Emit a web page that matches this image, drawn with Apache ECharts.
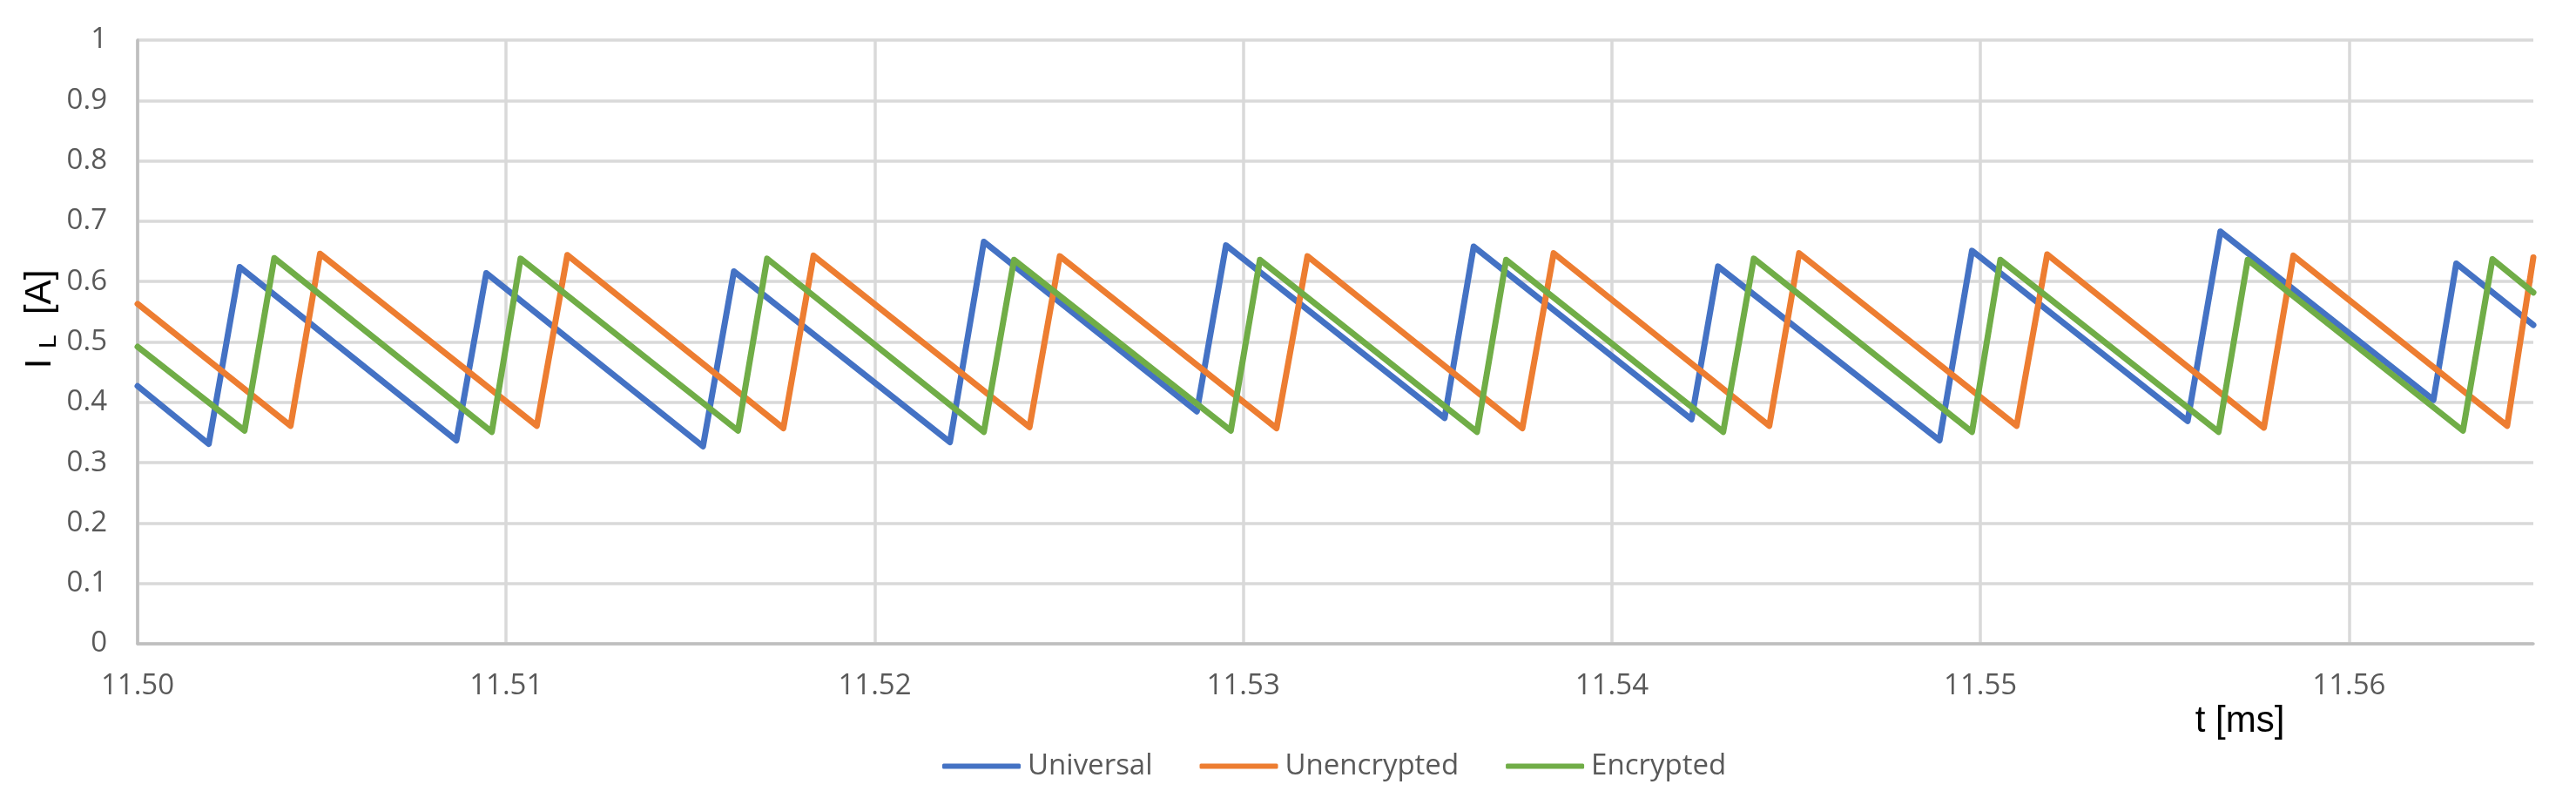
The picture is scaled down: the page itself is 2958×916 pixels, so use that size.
<!DOCTYPE html>
<html>
<head>
<meta charset="utf-8">
<script src="https://cdn.jsdelivr.net/npm/echarts/dist/echarts.min.js"></script>
<style>html,body{margin:0;padding:0;background:#fff;}#chart{width:2958px;height:916px;}</style>
</head>
<body>
<div id="chart"></div>
<script>
// Time values (ms) of each polyline vertex and inductor current (A)
const universalT = [11.5000, 11.50193, 11.50277, 11.50865, 11.50946, 11.51534, 11.51618, 11.52204, 11.52296, 11.52874, 11.52953, 11.53546, 11.53625, 11.54216, 11.54288, 11.54889, 11.54977, 11.55562, 11.55651, 11.56229, 11.56291, 11.5650];
const universalI = [0.427, 0.331, 0.624, 0.337, 0.614, 0.327, 0.617, 0.334, 0.666, 0.385, 0.660, 0.374, 0.658, 0.372, 0.625, 0.337, 0.651, 0.369, 0.683, 0.404, 0.630, 0.528];

const unencryptedT = [11.5000, 11.50415, 11.50495, 11.51083, 11.51166, 11.51752, 11.51834, 11.52420, 11.52502, 11.53090, 11.53174, 11.53757, 11.53842, 11.54427, 11.54508, 11.55098, 11.55181, 11.55769, 11.55849, 11.56429, 11.5650];
const unencryptedI = [0.563, 0.361, 0.646, 0.361, 0.644, 0.357, 0.643, 0.359, 0.642, 0.357, 0.642, 0.357, 0.647, 0.361, 0.647, 0.361, 0.645, 0.358, 0.643, 0.361, 0.640];

const encryptedT = [11.5000, 11.50290, 11.50371, 11.50961, 11.51039, 11.51629, 11.51708, 11.52296, 11.52378, 11.52966, 11.53045, 11.53634, 11.53713, 11.54302, 11.54385, 11.54977, 11.55054, 11.55646, 11.55725, 11.56309, 11.56389, 11.5650];
const encryptedI = [0.492, 0.353, 0.639, 0.351, 0.638, 0.353, 0.638, 0.351, 0.636, 0.353, 0.636, 0.351, 0.636, 0.351, 0.638, 0.351, 0.636, 0.351, 0.636, 0.353, 0.637, 0.582];

const seriesNames = ['Universal', 'Unencrypted', 'Encrypted'];
const seriesColors = ['#4472C4', '#ED7D31', '#70AD47'];
const xTickLabels = ['11.50', '11.51', '11.52', '11.53', '11.54', '11.55', '11.56'];

function pairs(t, v) { return t.map((x, i) => [x, v[i]]); }

const chart = echarts.init(document.getElementById('chart'), null, {renderer: 'canvas'});
const labelFont = {fontFamily: 'Open Sans', fontSize: 33, color: '#595959'};

chart.setOption({
  animation: false,
  backgroundColor: '#ffffff',
  color: seriesColors,
  grid: {left: 158, right: 49, top: 46, bottom: 177, containLabel: false},
  legend: {
    data: seriesNames,
    left: 1077, top: 858,
    icon: 'roundRect',
    itemWidth: 90, itemHeight: 6, itemGap: 54,
    textStyle: Object.assign({padding: [0, 0, 0, 3]}, labelFont)
  },
  xAxis: {
    type: 'value',
    min: 11.50, max: 11.565, interval: 0.01,
    name: 't [ms]',
    nameLocation: 'end',
    nameGap: -337,
    nameMoveOverlap: false,
    nameTextStyle: {fontFamily: 'Liberation Sans', fontSize: 42, color: '#000000', align: 'center', verticalAlign: 'top', padding: [68, 0, 0, 0]},
    axisLine: {show: true, lineStyle: {color: '#BFBFBF', width: 3.5}},
    axisTick: {show: false},
    axisLabel: {
      ...labelFont, margin: 32, showMaxLabel: false,
      formatter: function (v) {
        const idx = Math.round((v - 11.50) / 0.01);
        return xTickLabels[idx] !== undefined ? xTickLabels[idx] : '';
      }
    },
    splitLine: {show: true, showMaxLine: false, lineStyle: {color: '#D9D9D9', width: 3.5}}
  },
  yAxis: {
    type: 'value',
    min: 0, max: 1, interval: 0.1,
    name: '{i|I }{sub|L}{i|  [A]}',
    nameLocation: 'middle',
    nameRotate: 90,
    nameGap: 88,
    nameMoveOverlap: false,
    nameTextStyle: {
      padding: [0, 0, 0, 52],
      rich: {
        i: {fontFamily: 'Liberation Sans', fontSize: 42, color: '#000000', lineHeight: 48, verticalAlign: 'middle'},
        sub: {fontFamily: 'Liberation Sans', fontSize: 28, color: '#000000', lineHeight: 20, verticalAlign: 'bottom'}
      }
    },
    axisLine: {show: true, lineStyle: {color: '#BFBFBF', width: 3.5}},
    axisTick: {show: false},
    axisLabel: {...labelFont, margin: 35},
    splitLine: {show: true, lineStyle: {color: '#D9D9D9', width: 3.5}}
  },
  series: [
    {name: seriesNames[0], type: 'line', data: pairs(universalT, universalI), showSymbol: false, symbol: 'none', lineStyle: {width: 7, cap: 'round', join: 'round'}},
    {name: seriesNames[1], type: 'line', data: pairs(unencryptedT, unencryptedI), showSymbol: false, symbol: 'none', lineStyle: {width: 7, cap: 'round', join: 'round'}},
    {name: seriesNames[2], type: 'line', data: pairs(encryptedT, encryptedI), showSymbol: false, symbol: 'none', lineStyle: {width: 7, cap: 'round', join: 'round'}}
  ]
});
</script>
</body>
</html>
